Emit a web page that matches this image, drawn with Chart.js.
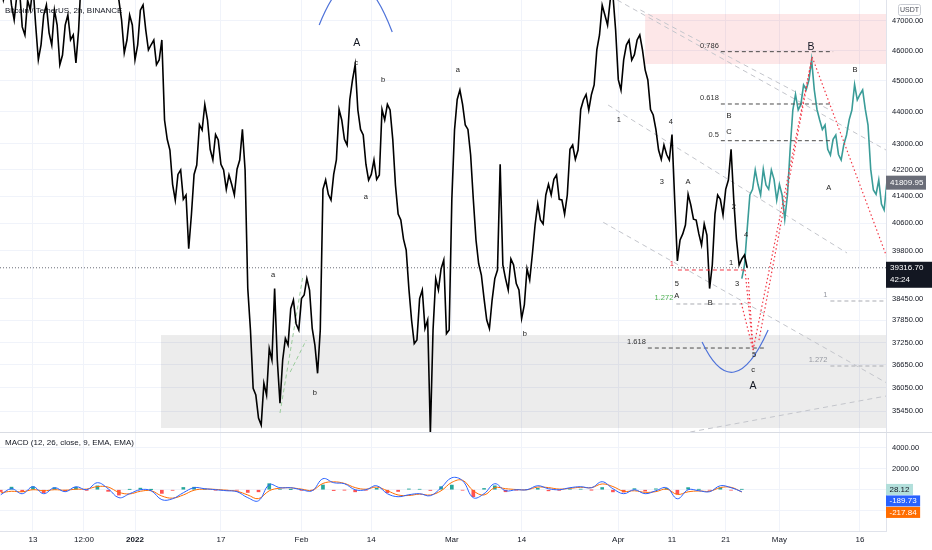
<!DOCTYPE html>
<html>
<head>
<meta charset="utf-8">
<script src="https://cdn.jsdelivr.net/npm/chart.js@4.4.1/dist/chart.umd.min.js"></script>
<style>
  html, body { margin: 0; padding: 0; background: #fff; }
  #wrap { position: relative; width: 932px; height: 550px; overflow: hidden; }
  #price { position: absolute; left: 0; top: 0; }
  #macd { position: absolute; left: 0; top: 432px; }
</style>
</head>
<body>
<div id="wrap">
  <canvas id="price" width="932" height="432"></canvas>
  <canvas id="macd" width="932" height="118"></canvas>
</div>
<script>
const FONT = '"Liberation Sans", Arial, sans-serif';

// time axis, days counted from 1 Jan 2022
const timeTicks = [-19, -9.5, 0, 16, 31, 44, 59, 72, 90, 100, 110, 120, 135];
const timeLabels = ['13', '12:00', '2022', '17', 'Feb', '14', 'Mar', '14', 'Apr', '11', '21', 'May', '16'];

const priceTicks = [47000, 46000, 45000, 44000, 43000, 42200, 41400, 40600, 39800, 38450, 37850, 37250, 36650, 36050, 35450];
const macdTicks = [4000, 2000, 0, -2000];

// BTC/USDT, one reading per day from day -25
const priceStart = -25;
const btcClose = [
  48390, 48050, 47530, 47880, 46790, 47700, 48220, 45690, 47190, 46590,
  47360, 45530, 46850, 46350, 45590, 48570, 49090, 49450, 49630, 49270,
  49090, 48740, 47700, 45920, 47190, 45690, 47360, 46690, 46190, 45530,
  46350, 43140, 41760, 42060, 41310, 39860, 42060, 43600, 44240, 42830,
  43290, 42370, 41610, 41760, 42220, 43450, 38730, 36040, 35270, 36170,
  37090, 38730, 35650, 37360, 38170, 37760, 38450, 39010, 37630, 36430,
  41610, 41460, 42060, 44080, 43140, 44400, 45530, 43450, 42370, 42060,
  41910, 44080, 44240, 43140, 40870, 40140, 38730, 37220, 38450, 37630,
  34890, 39010, 39290, 37490, 41310, 44400, 44240, 43450, 41310, 39430,
  38450, 37630, 39010, 42370, 39010, 39570, 38870, 37900, 39290, 39710,
  41170, 40580, 41760, 41910, 41310, 40870, 42830, 42520, 44080, 44560,
  44560, 46020, 47530, 46850, 47880, 45040, 45690, 46350, 45860, 46520,
  45360, 44080, 43450, 42520, 42670, 43290, 39510, 40290, 41460, 40720,
  40290, 40580, 38730, 40870, 41310, 41610, 42830, 40140, 39570, 39317
];
// mid-day swings, half a day after each reading above
const btcSwing = [
  47708, 48402, 47024, 48054, 46517, 47365, 46854, 46182, 47536, 46182,
  46854, 45850, 47194, 46517, 46685, 48054, 49642, 48930, 50002, 48754,
  49463, 47881, 47024, 46349, 46854, 46182, 47536, 46016, 46349, 45684,
  43746, 42808, 41289, 42194, 41439, 40845, 42347, 43431, 43746, 42500,
  43119, 42194, 42042, 41439, 42500, 42194, 37588, 35863, 35094, 35863,
  36782, 36782, 36782, 37182, 38411, 37588, 38550, 38690, 37182, 37588,
  41890, 41289, 42500, 43746, 42963, 45029, 44063, 43275, 41890, 42500,
  42042, 43746, 44063, 41740, 40697, 39824, 37860, 37317, 38690, 37860,
  37588, 38690, 39538, 37588, 43431, 44705, 43588, 42654, 40113, 39111,
  37860, 38411, 39253, 39395, 38690, 39395, 38690, 38273, 38970, 40550,
  40697, 41439, 41439, 42042, 41289, 41439, 42963, 42808, 44383, 44063,
  44867, 46517, 47194, 47708, 46685, 44705, 46182, 45684, 46349, 46016,
  45029, 43904, 42808, 42963, 42500, 41289, 40113, 40550, 41140, 40697,
  39968, 40258, 39395, 41439, 40845, 41890, 41289, 39395, 39681
];

// projected path (teal) from day 113
const projStart = 113;
const projClose = [
  39010, 40430, 41610, 41760, 42220, 41610, 41910, 41760, 40720, 42830,
  44560, 44240, 44720, 45690, 44080, 43450, 42830, 43140, 42670, 42980,
  43760, 44880, 44560, 44080, 42220, 41460, 41170, 41810
];
const projSwing = [
  39395, 41439, 42194, 41439, 41740, 42194, 41289, 41439, 41439, 44063,
  44063, 44867, 45029, 44705, 43746, 43588, 42654, 43275, 42500, 43275,
  44063, 44383, 44705, 43588, 41589, 41890, 40992
];
const lastPrice = 39316.70;
const lastProj = 41809.95;

// MACD (12, 26, close, 9), one reading every 2 days from day -25
const macdStart = -25;
const macdStep = 2;
const macdLine = [
  -476, 95, -380, 286, -380, 190, -190, 286, 0, 667,
  95, -760, -380, 0, -95, -950, -860, -286, 190, 95,
  0, -95, -190, -760, -1050, 476, 190, 190, 0, -95,
  1050, 667, 570, 0, 0, 380, -380, -667, -476, -380,
  -570, 190, 1140, 857, -760, -380, 570, -95, 0, 0,
  380, 95, 0, 190, 286, 190, 760, 95, -380, 0,
  -380, -95, 190, -860, 0, -95, -190, 380, 190, -190
];
const signalLine = [
  -300, -150, -200, 0, -100, 0, -50, 50, 60, 300,
  250, -250, -400, -150, -100, -600, -800, -500, -50, 60,
  30, -50, -150, -500, -850, -100, 150, 180, 60, -50,
  600, 750, 600, 200, 50, 250, -100, -500, -550, -420,
  -500, -100, 700, 900, -100, -500, 200, 100, 20, 0,
  250, 200, 60, 130, 230, 200, 550, 300, -150, -100,
  -250, -180, 60, -450, -200, -120, -150, 200, 230, -220
];
const macdHist = [
  -176, 245, -180, 286, -280, 190, -140, 236, -60, 367,
  -155, -510, 20, 150, 5, -350, -60, 214, 240, 35,
  -30, -45, -40, -260, -200, 576, 40, 10, -60, -45,
  450, -83, -30, -200, -50, 130, -280, -167, 74, 40,
  -70, 290, 440, -43, -660, 120, 370, -195, -20, 0,
  130, -105, -60, 60, 56, -10, 210, -205, -230, 100,
  -130, 85, 130, -410, 200, 25, -40, 180, -40, 30
];
const macdTags = [['28.12', '#b2dfdb', '#131722'], ['-189.73', '#2962ff', '#fff'], ['-217.84', '#ff6d00', '#fff']];

// drawings in chart coordinates: [day, price]
const greyZone = [4.84, 140, 37452, 35019];
const pinkZone = [95.0, 140, 47228, 45552];
const fibLevels = [
  ['0.786', 109.1, 130.0, 45960],
  ['0.618', 109.1, 130.0, 44255],
  ['0.5', 109.1, 130.0, 43097],
  ['1.618', 95.5, 117.3, 37102]
];
const extLevels = [
  ['1.272', 100.8, 113.8, 38301],
  ['1', 129.5, 140, 38384],
  ['1.272', 129.5, 140, 36623]
];
const redLevel = ['1', 101.1, 114.0, 39253];
const channelLines = [
  [89.8, 47708, 139.85, 42808],
  [94.1, 47365, 129.4, 44063],
  [88.1, 44222, 132.6, 39738],
  [87.2, 40629, 140.0, 36176],
  [103.4, 34918, 139.85, 35837]
];
const greenLines = [
  [27.0, 35400, 31.3, 39111],
  [28.9, 36464, 31.9, 37317]
];
const redPaths = [
  [113.6, 39253, 115.1, 37048],
  [114.2, 39026, 115.1, 37048],
  [112.9, 38328, 115.1, 37048],
  [115.1, 37048, 126.1, 45783],
  [116.2, 37317, 126.1, 45783],
  [126.1, 45783, 140.0, 39624]
];
const arcs = [
  [34.3, 46854, 41.0, 50002, 47.9, 46617],
  [105.6, 37263, 111.4, 35528, 117.9, 37588]
];
const waveLabels = [
  ['c', 41.2, 45585], ['b', 46.2, 45029], ['a', 43.0, 41378], ['a', 25.7, 39111],
  ['b', 33.5, 35915], ['a', 60.1, 45355], ['b', 72.6, 37479], ['1', 90.1, 43746],
  ['4', 99.8, 43683], ['3', 98.1, 41830], ['A', 103.0, 41830], ['5', 100.9, 38858],
  ['A', 100.9, 38521], ['B', 107.1, 38328], ['B', 110.6, 43873], ['C', 110.6, 43368],
  ['2', 111.5, 41081], ['4', 113.8, 40259], ['1', 111.0, 39451], ['3', 112.1, 38858],
  ['5', 115.3, 36915], ['c', 115.1, 36517], ['B', 134.1, 45355], ['A', 129.2, 41649]
];
const bigWaveLabels = [['A', 41.3, 46254], ['A', 115.1, 36097], ['B', 125.9, 46117]];

function toPx(chart, d, v) {
  return [chart.scales.x.getPixelForValue(d), chart.scales.y.getPixelForValue(v)];
}

// readings plus the swing half a day later
function withSwings(start, closes, swings) {
  const pts = [];
  closes.forEach((v, i) => {
    pts.push({ x: start + i, y: v });
    if (i < swings.length) pts.push({ x: start + i + 0.5, y: swings[i] });
  });
  return pts;
}

function seg(ctx, a, b, color, width, dash) {
  ctx.save();
  ctx.strokeStyle = color;
  ctx.lineWidth = width;
  ctx.setLineDash(dash);
  ctx.beginPath();
  ctx.moveTo(a[0], a[1]);
  ctx.lineTo(b[0], b[1]);
  ctx.stroke();
  ctx.restore();
}

function text(ctx, str, x, y, size, color, align, base) {
  ctx.save();
  ctx.font = size + 'px ' + FONT;
  ctx.fillStyle = color;
  ctx.textAlign = align || 'center';
  ctx.textBaseline = base || 'middle';
  ctx.fillText(str, x, y);
  ctx.restore();
}

const priceOverlay = {
  id: 'priceOverlay',
  beforeDatasetsDraw(chart) {
    const ctx = chart.ctx, area = chart.chartArea;
    ctx.save();
    ctx.beginPath();
    ctx.rect(area.left, area.top, area.right - area.left, area.bottom - area.top);
    ctx.clip();
    [[greyZone, 'rgba(0,0,0,0.075)'], [pinkZone, 'rgba(242,54,69,0.12)']].forEach(([z, c]) => {
      const a = toPx(chart, z[0], z[2]), b = toPx(chart, z[1], z[3]);
      ctx.fillStyle = c;
      ctx.fillRect(a[0], a[1], b[0] - a[0], b[1] - a[1]);
    });
    channelLines.forEach(l => seg(ctx, toPx(chart, l[0], l[1]), toPx(chart, l[2], l[3]), '#c3c5cb', 1, [5, 4]));
    greenLines.forEach(l => seg(ctx, toPx(chart, l[0], l[1]), toPx(chart, l[2], l[3]), '#9ccc9c', 1, [4, 3]));
    const cp = chart.scales.y.getPixelForValue(lastPrice);
    seg(ctx, [area.left, cp], [area.right, cp], '#6b6e78', 1, [1, 2]);
    ctx.restore();
    text(ctx, 'Bitcoin / TetherUS, 2h, BINANCE', 5, 11, 8, '#131722', 'left');
  },
  afterDatasetsDraw(chart) {
    const ctx = chart.ctx, area = chart.chartArea;
    ctx.save();
    ctx.beginPath();
    ctx.rect(area.left, area.top, area.right - area.left, area.bottom - area.top);
    ctx.clip();
    fibLevels.forEach(f => {
      const a = toPx(chart, f[1], f[3]), b = toPx(chart, f[2], f[3]);
      seg(ctx, a, b, '#4a4a4a', 1, [4, 3]);
      text(ctx, f[0], a[0] - 2, a[1] - 2, 7.5, '#333', 'right', 'bottom');
    });
    extLevels.forEach((f, i) => {
      const a = toPx(chart, f[1], f[3]), b = toPx(chart, f[2], f[3]);
      seg(ctx, a, b, '#a9abb2', 1, [4, 3]);
      text(ctx, f[0], a[0] - 3, a[1] - 2, 7.5, i === 0 ? '#4caf50' : '#9598a1', 'right', 'bottom');
    });
    const ra = toPx(chart, redLevel[1], redLevel[3]), rb = toPx(chart, redLevel[2], redLevel[3]);
    seg(ctx, ra, rb, '#f23645', 1, [4, 3]);
    text(ctx, redLevel[0], ra[0] - 4, ra[1] - 2, 7.5, '#f23645', 'right', 'bottom');
    redPaths.forEach(l => seg(ctx, toPx(chart, l[0], l[1]), toPx(chart, l[2], l[3]), '#f23645', 1.2, [1.5, 2.5]));
    ctx.strokeStyle = '#4f73d9';
    ctx.lineWidth = 1.2;
    arcs.forEach(a => {
      const p0 = toPx(chart, a[0], a[1]), p1 = toPx(chart, a[2], a[3]), p2 = toPx(chart, a[4], a[5]);
      ctx.beginPath();
      ctx.moveTo(p0[0], p0[1]);
      ctx.quadraticCurveTo(p1[0], p1[1], p2[0], p2[1]);
      ctx.stroke();
    });
    waveLabels.forEach(l => {
      const p = toPx(chart, l[1], l[2]);
      text(ctx, l[0], p[0], p[1], 7.5, '#222');
    });
    bigWaveLabels.forEach(l => {
      const p = toPx(chart, l[1], l[2]);
      text(ctx, l[0], p[0], p[1], 10.5, '#131722');
    });
    ctx.restore();

    // right-hand price tags
    const y = chart.scales.y;
    const pt = y.getPixelForValue(lastProj);
    ctx.fillStyle = '#6a6d78';
    ctx.fillRect(area.right, pt - 7, 40, 14);
    text(ctx, lastProj.toFixed(2), area.right + 4, pt, 8, '#fff', 'left');
    const lp = y.getPixelForValue(lastPrice);
    ctx.fillStyle = '#131722';
    ctx.fillRect(area.right, lp - 6, 46, 26);
    text(ctx, lastPrice.toFixed(2), area.right + 4, lp, 8, '#fff', 'left');
    text(ctx, '42:24', area.right + 4, lp + 12, 8, '#fff', 'left');

    ctx.save();
    ctx.strokeStyle = '#c9ccd3';
    ctx.lineWidth = 1;
    ctx.beginPath();
    ctx.roundRect(area.right + 12.5, 4.5, 22, 11, 2);
    ctx.stroke();
    ctx.restore();
    text(ctx, 'USDT', area.right + 23.5, 10, 7, '#4a4d57');
  }
};

const macdOverlay = {
  id: 'macdOverlay',
  afterDatasetsDraw(chart) {
    const ctx = chart.ctx, area = chart.chartArea;
    seg(ctx, [0, 0.5], [chart.width, 0.5], '#d9dce3', 1, []);
    text(ctx, 'MACD (12, 26, close, 9, EMA, EMA)', 5, 11, 8, '#131722', 'left');
    let ty = chart.scales.y.getPixelForValue(Number(macdTags[0][0]));
    macdTags.forEach(t => {
      ctx.save();
      ctx.font = '8px ' + FONT;
      const w = ctx.measureText(t[0]).width + 7;
      ctx.fillStyle = t[1];
      ctx.fillRect(area.right, ty - 5.5, w, 11);
      ctx.restore();
      text(ctx, t[0], area.right + 3.5, ty, 8, t[2], 'left');
      ty += 11.5;
    });
  }
};

const baseX = {
  type: 'linear',
  min: -25.14,
  max: 139.85,
  offset: false,
  grid: { color: '#f0f3fa', drawTicks: false, offset: false },
  afterBuildTicks: s => { s.ticks = timeTicks.map(v => ({ value: v })); }
};

new Chart(document.getElementById('price'), {
  type: 'line',
  data: {
    datasets: [
      {
        data: withSwings(priceStart, btcClose, btcSwing),
        borderColor: '#000',
        borderWidth: 1.6,
        pointRadius: 0,
        tension: 0
      },
      {
        data: withSwings(projStart, projClose, projSwing),
        borderColor: '#3a9c98',
        borderWidth: 1.6,
        pointRadius: 0,
        tension: 0
      }
    ]
  },
  options: {
    responsive: false,
    animation: false,
    events: [],
    layout: { padding: 0 },
    plugins: { legend: { display: false }, tooltip: { enabled: false } },
    scales: {
      x: Object.assign({}, baseX, {
        ticks: { display: false },
        border: { display: false },
        afterFit: s => { s.height = 0; }
      }),
      y: {
        type: 'logarithmic',
        position: 'right',
        min: 34918,
        max: 47708,
        afterBuildTicks: s => { s.ticks = priceTicks.map(v => ({ value: v })); },
        ticks: {
          autoSkip: false,
          padding: 6,
          color: '#131722',
          font: { family: FONT, size: 7.5 },
          callback: v => Number(v).toFixed(2)
        },
        grid: { color: '#f0f3fa', drawTicks: false },
        border: { display: true, color: '#e0e3eb' },
        afterFit: s => { s.width = 46; s.paddingTop = 0; s.paddingBottom = 0; }
      }
    }
  },
  plugins: [priceOverlay]
});

new Chart(document.getElementById('macd'), {
  type: 'bar',
  data: {
    datasets: [
      {
        type: 'bar',
        data: macdHist.map((v, i) => ({ x: macdStart + macdStep * i, y: v })),
        backgroundColor: c => (c.raw && c.raw.y >= 0 ? '#26a69a' : '#ff5252'),
        barThickness: 3,
        order: 3
      },
      {
        type: 'line',
        data: signalLine.map((v, i) => ({ x: macdStart + macdStep * i, y: v })),
        borderColor: '#ff6d00',
        borderWidth: 1,
        pointRadius: 0,
        tension: 0.4,
        order: 2
      },
      {
        type: 'line',
        data: macdLine.map((v, i) => ({ x: macdStart + macdStep * i, y: v })),
        borderColor: '#2962ff',
        borderWidth: 1,
        pointRadius: 0,
        tension: 0.4,
        order: 1
      }
    ]
  },
  options: {
    responsive: false,
    animation: false,
    events: [],
    layout: { padding: 0 },
    plugins: { legend: { display: false }, tooltip: { enabled: false } },
    scales: {
      x: Object.assign({}, baseX, {
        ticks: {
          autoSkip: false,
          maxRotation: 0,
          padding: 4,
          color: '#131722',
          font: c => ({ family: FONT, size: 8, weight: c.tick && c.tick.value === 0 ? 'bold' : 'normal' }),
          callback: (v, i) => timeLabels[i]
        },
        border: { display: true, color: '#e0e3eb' },
        afterFit: s => { s.height = 19; s.paddingLeft = 0; s.paddingRight = 0; }
      }),
      y: {
        type: 'linear',
        position: 'right',
        min: -3930,
        max: 5495,
        afterBuildTicks: s => { s.ticks = macdTicks.map(v => ({ value: v })); },
        ticks: {
          autoSkip: false,
          padding: 6,
          color: '#131722',
          font: { family: FONT, size: 7.5 },
          callback: v => (v > 0 ? Number(v).toFixed(2) : '')
        },
        grid: { color: '#f0f3fa', drawTicks: false },
        border: { display: true, color: '#e0e3eb' },
        afterFit: s => { s.width = 46; s.paddingTop = 0; s.paddingBottom = 0; }
      }
    }
  },
  plugins: [macdOverlay]
});
</script>
</body>
</html>
